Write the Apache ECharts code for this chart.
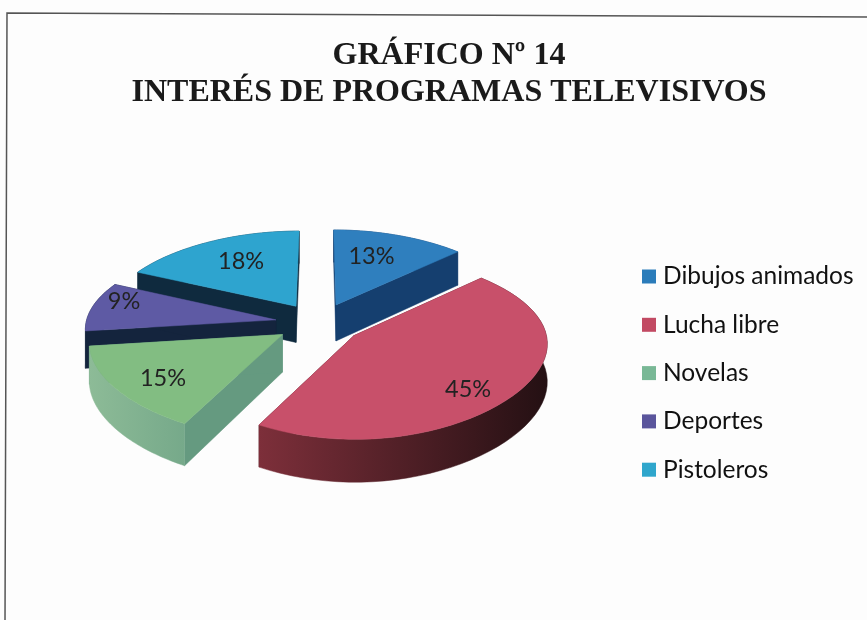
<!DOCTYPE html>
<html>
<head>
<meta charset="utf-8">
<style>html,body{margin:0;padding:0;background:#fdfdfd}#main{width:867px;height:620px}</style>
<script src="https://cdn.jsdelivr.net/npm/echarts@6/dist/echarts.min.js"></script>
</head>
<body>
<div id="main"></div>
<script>
var titleLines = ['GRÁFICO Nº 14', 'INTERÉS DE PROGRAMAS TELEVISIVOS'];
var categories = ['Dibujos animados', 'Lucha libre', 'Novelas', 'Deportes', 'Pistoleros'];
var percents = [13, 45, 15, 9, 18];

var topColors = ['#2f7fbe', '#c8506a', '#82bd82', '#5e5aa4', '#2ea4cf'];
var legendColors = ['#2b7cba', '#c24a63', '#79b896', '#5a559c', '#2fa6cc'];
var cutColors = ['#153f6f', '#4a1a22', '#659a80', '#14243d', '#0f2a3e'];
var wallFrom = ['#153f6f', '#7d2f3a', '#8dbb97', '#14243d', '#0f2a3e'];
var wallTo = ['#153f6f', '#241013', '#76a98a', '#14243d', '#0f2a3e'];
// paint order, back slices first
var paintOrder = [1, 5, 4, 3, 2];
// where the percent label sits inside each slice
var labelAt = [[0.47, 0.6], [0.76, 1.0], [0.76, 0.88], [0.81, 1.35], [0.54, 0.6]];

var cx = 319, cy = 323, rx = 190, ry = 88, depth = 37, persp = 0.12, explode = 0.23;

function project(X, Z, H) {
  var s = 1 / (1 + persp * Z);
  // sideways the back narrows more than the front spreads
  var sx = 1 / (1 + 0.0965 * Z + 0.0465 * Z * Z);
  return [cx + sx * X * rx, cy - s * Z * ry + s * H * depth];
}

var total = percents.reduce(function (a, b) { return a + b; }, 0);

function sliceRenderer(idx) {
  return function (params, api) {
    var before = percents.slice(0, idx).reduce(function (a, b) { return a + b; }, 0);
    var a0 = before / total * Math.PI * 2;
    var a1 = (before + api.value(0)) / total * Math.PI * 2;
    var mid = (a0 + a1) / 2;
    var X0 = explode * Math.sin(mid), Z0 = explode * Math.cos(mid);
    var steps = 48, rimTop = [], rimBottom = [];
    for (var i = 0; i <= steps; i++) {
      var a = a0 + (a1 - a0) * i / steps;
      rimTop.push(project(X0 + Math.sin(a), Z0 + Math.cos(a), 0));
      rimBottom.push(project(X0 + Math.sin(a), Z0 + Math.cos(a), 1));
    }
    var apexTop = project(X0, Z0, 0), apexBottom = project(X0, Z0, 1);
    var poly = function (pts, fill) {
      return { type: 'polygon', shape: { points: pts }, style: { fill: fill, stroke: fill, lineWidth: 0.5 } };
    };
    var wall = new echarts.graphic.LinearGradient(0, 0, 1, 0, [
      { offset: 0, color: wallFrom[idx] }, { offset: 1, color: wallTo[idx] }
    ]);
    var at = labelAt[idx];
    return {
      type: 'group',
      children: [
        poly([apexTop, rimTop[0], rimBottom[0], apexBottom], cutColors[idx]),
        poly([apexTop, rimTop[steps], rimBottom[steps], apexBottom], cutColors[idx]),
        poly(rimTop.concat(rimBottom.slice().reverse()), wall),
        poly([apexTop].concat(rimTop), topColors[idx]),
        {
          type: 'text',
          style: {
            text: api.value(0) + '%',
            x: apexTop[0] + at[0] * rx * Math.sin(mid),
            y: apexTop[1] - at[1] * ry * Math.cos(mid),
            align: 'center',
            verticalAlign: 'middle',
            fontFamily: 'Lato',
            fontSize: 23.5,
            fill: '#222'
          }
        }
      ]
    };
  };
}

var chart = echarts.init(document.getElementById('main'));
var option = {
  animation: false,
  backgroundColor: '#fdfdfd',
  title: {
    text: titleLines.join('\n'),
    left: 444,
    top: 32,
    textAlign: 'center',
    textStyle: {
      fontFamily: 'Liberation Serif',
      fontWeight: 'bold',
      fontSize: 32,
      lineHeight: 37,
      color: '#1a1a1a'
    }
  },
  legend: {
    orient: 'vertical',
    left: 637,
    top: 259,
    itemWidth: 14,
    itemHeight: 14,
    itemGap: 23.3,
    icon: 'rect',
    data: categories,
    selectedMode: false,
    textStyle: { fontFamily: 'Lato', fontSize: 24.5, color: '#111', padding: [0, 0, 0, 2] }
  },
  graphic: [
    { type: 'polyline', silent: true, shape: { points: [[867, 17], [7, 13], [5, 620]] }, style: { fill: null, stroke: '#555', lineWidth: 1.5 } }
  ],
  series: categories.map(function (name, i) {
    return {
      type: 'custom',
      name: name,
      coordinateSystem: 'none',
      z: paintOrder[i],
      silent: true,
      itemStyle: { color: legendColors[i] },
      renderItem: sliceRenderer(i),
      data: [[percents[i]]]
    };
  })
};
chart.setOption(option);
</script>
</body>
</html>
